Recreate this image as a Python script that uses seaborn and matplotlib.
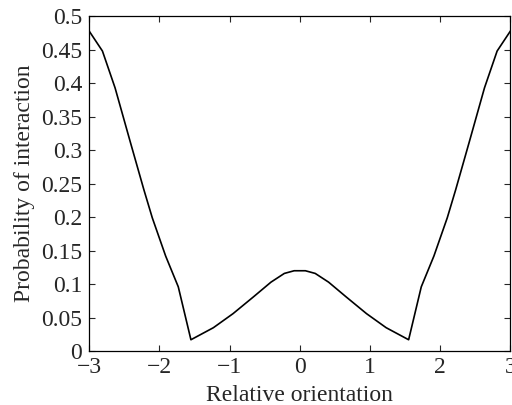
import numpy as np
import pandas as pd
import matplotlib
matplotlib.use("Agg")
import matplotlib.pyplot as plt
import seaborn as sns

# values
orientation = [-3.0, -2.81, -2.63, -2.41, -2.22, -2.10, -1.91, -1.73, -1.55,
               -1.23, -0.95, -0.66, -0.41, -0.22, -0.08, 0.0,
               0.08, 0.22, 0.41, 0.66, 0.95, 1.23, 1.55,
               1.73, 1.91, 2.10, 2.22, 2.41, 2.63, 2.81, 3.0]
probability = [0.478, 0.448, 0.393, 0.311, 0.241, 0.199, 0.142, 0.096, 0.017,
               0.035, 0.056, 0.081, 0.103, 0.116, 0.120, 0.120,
               0.120, 0.116, 0.103, 0.081, 0.056, 0.035, 0.017,
               0.096, 0.142, 0.199, 0.241, 0.311, 0.393, 0.448, 0.478]

x_ticks = [-3, -2, -1, 0, 1, 2, 3]
y_ticks = [0, 0.05, 0.1, 0.15, 0.2, 0.25, 0.3, 0.35, 0.4, 0.45, 0.5]
y_tick_labels = ["0", "0.05", "0.1", "0.15", "0.2", "0.25", "0.3", "0.35", "0.4", "0.45", "0.5"]

df = pd.DataFrame({"orientation": orientation, "probability": probability})

sns.set_style("ticks")
plt.rcParams['font.family'] = ['Liberation Serif', 'DejaVu Serif']
plt.rcParams['xtick.direction'] = 'in'
plt.rcParams['ytick.direction'] = 'in'

fig = plt.figure(figsize=(5.12, 4.05), dpi=100)
ax = fig.add_axes([0.174, 0.133, 0.823, 0.827])
sns.lineplot(data=df, x="orientation", y="probability", color="black",
             linewidth=1.2, ax=ax, sort=False)

ax.set_xlim(-3, 3)
ax.set_ylim(0, 0.5)
ax.set_xticks(x_ticks)
ax.set_yticks(y_ticks)
ax.set_yticklabels(y_tick_labels)
ax.tick_params(axis='both', labelsize=17, length=4, width=0.8,
               top=True, right=True)
ax.tick_params(axis='y', pad=5)
ax.tick_params(axis='x', pad=4)
ax.set_xlabel("Relative orientation", fontsize=17, labelpad=5)
ax.set_ylabel("Probability of interaction", fontsize=17, labelpad=4)
for s in ax.spines.values():
    s.set_linewidth(0.9)
    s.set_color("black")

fig.savefig("out.png", dpi=100)
